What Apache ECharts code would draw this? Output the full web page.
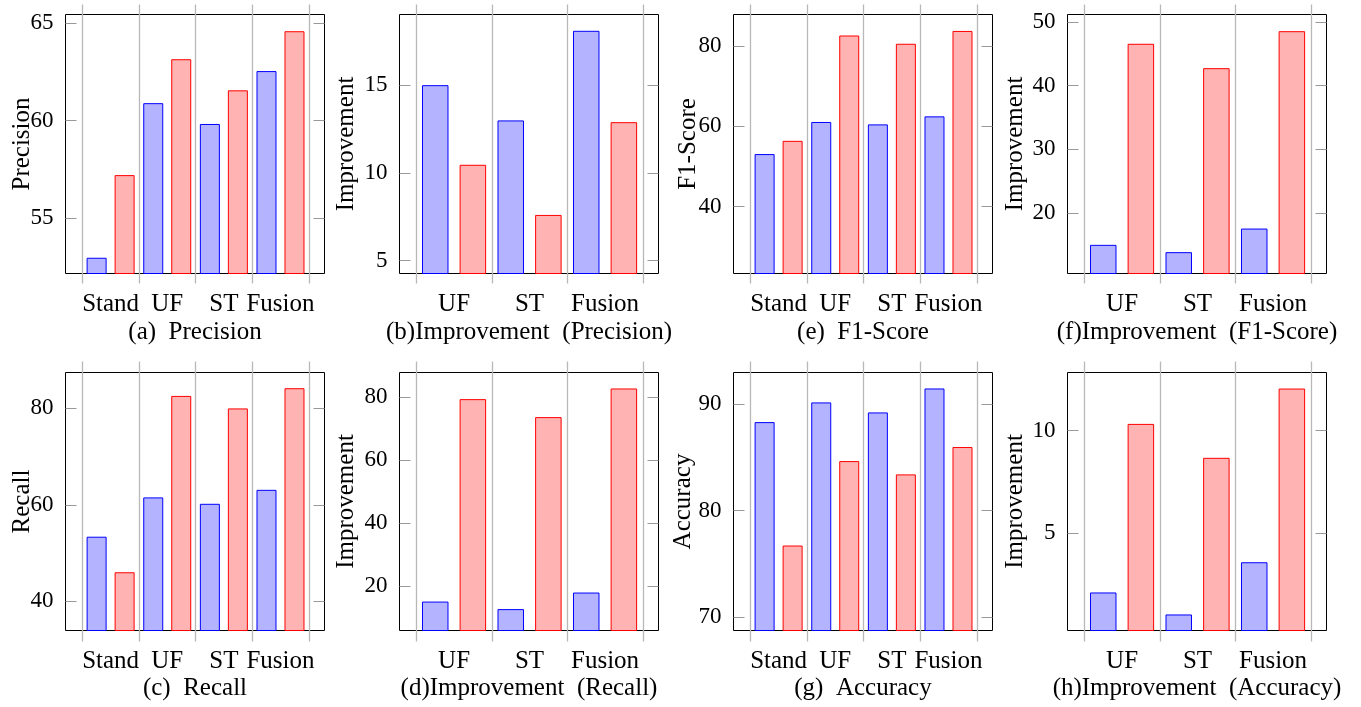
<!DOCTYPE html>
<html>
<head>
<meta charset="utf-8">
<script src="https://cdn.jsdelivr.net/npm/echarts@6/dist/echarts.min.js"></script>
<style>html,body{margin:0;padding:0;background:#fff;}#c{width:1361px;height:707px;}</style>
</head>
<body>
<div id="c"></div>
<script>
// ---- data ----
const categoriesMain = ['Stand', 'UF', 'ST', 'Fusion'];
const categoriesImp = ['UF', 'ST', 'Fusion'];

const precisionBlue = [52.95, 60.9, 59.83, 62.55];
const precisionRed  = [57.2, 63.16, 61.56, 64.6];
const precisionImpBlue = [15.0, 12.99, 18.1];
const precisionImpRed  = [10.46, 7.6, 12.89];

const recallBlue = [53.37, 61.53, 60.2, 63.1];
const recallRed  = [45.99, 82.6, 80.0, 84.2];
const recallImpBlue = [15.0, 12.6, 17.87];
const recallImpRed  = [79.37, 73.65, 82.76];

const f1Blue = [53.1, 61.1, 60.5, 62.5];
const f1Red  = [56.4, 82.66, 80.6, 83.8];
const f1ImpBlue = [14.97, 13.82, 17.53];
const f1ImpRed  = [46.55, 42.72, 48.53];

const accuracyBlue = [88.31, 90.16, 89.22, 91.47];
const accuracyRed  = [76.72, 84.65, 83.4, 85.97];
const accuracyImpBlue = [2.12, 1.05, 3.59];
const accuracyImpRed  = [10.32, 8.67, 12.04];

// tick labels
const precisionTicks = [55, 60, 65];
const precisionImpTicks = [5, 10, 15];
const f1Ticks = [40, 60, 80];
const f1ImpTicks = [20, 30, 40, 50];
const recallTicks = [40, 60, 80];
const recallImpTicks = [20, 40, 60, 80];
const accuracyTicks = [70, 80, 90];
const accuracyImpTicks = [5, 10];

// ---- layout ----
const FONT = '"Liberation Serif", "DejaVu Serif", serif';
const colX = [65.5, 399.5, 733.5, 1067.5];
const rowTop = [14.5, 372.5];
const rowH = [259, 258];
const BOX_W = 259, INSET = 16.8, INNER_W = 226.5;

const panels = [
  {col:0,row:0,cats:categoriesMain,blue:precisionBlue,red:precisionRed,yName:'Precision',caption:'(a)  Precision',min:52.14,max:65.46,ticks:precisionTicks,nameGap:31,bw:20,gap:'40%'},
  {col:1,row:0,cats:categoriesImp,blue:precisionImpBlue,red:precisionImpRed,yName:'Improvement',caption:'(b)Improvement  (Precision)',min:4.26,max:19.03,ticks:precisionImpTicks,nameGap:41,bw:26.5,gap:'42%'},
  {col:2,row:0,cats:categoriesMain,blue:f1Blue,red:f1Red,yName:'F1-Score',caption:'(e)  F1-Score',min:23.32,max:87.9,ticks:f1Ticks,nameGap:33,bw:20,gap:'40%'},
  {col:3,row:0,cats:categoriesImp,blue:f1ImpBlue,red:f1ImpRed,yName:'Improvement',caption:'(f)Improvement  (F1-Score)',min:10.47,max:51.15,ticks:f1ImpTicks,nameGap:40,bw:26.5,gap:'42%'},
  {col:0,row:1,cats:categoriesMain,blue:recallBlue,red:recallRed,yName:'Recall',caption:'(c)  Recall',min:33.9,max:87.46,ticks:recallTicks,nameGap:31,bw:20,gap:'40%'},
  {col:1,row:1,cats:categoriesImp,blue:recallImpBlue,red:recallImpRed,yName:'Improvement',caption:'(d)Improvement  (Recall)',min:5.8,max:87.84,ticks:recallImpTicks,nameGap:41,bw:26.5,gap:'42%'},
  {col:2,row:1,cats:categoriesMain,blue:accuracyBlue,red:accuracyRed,yName:'Accuracy',caption:'(g)  Accuracy',min:68.74,max:92.97,ticks:accuracyTicks,nameGap:38,bw:20,gap:'40%'},
  {col:3,row:1,cats:categoriesImp,blue:accuracyImpBlue,red:accuracyImpRed,yName:'Improvement',caption:'(h)Improvement  (Accuracy)',min:0.27,max:12.82,ticks:accuracyImpTicks,nameGap:40,bw:26.5,gap:'42%'}
];

const grid = [], xAxis = [], yAxis = [], series = [];
const textBase = {color:'#000', fontFamily: FONT};

panels.forEach(p => {
  const left = colX[p.col];
  const top = rowTop[p.row];
  const h = rowH[p.row];
  const ext = p.row === 0 ? 10 : 11;
  // vertical grid lines (extend beyond the box)
  const gLines = grid.length;
  grid.push({left: left + INSET, top: top - ext, width: INNER_W, height: h + 2*ext});
  xAxis.push({gridIndex:gLines, type:'category', data:p.cats, boundaryGap:true,
    axisLine:{show:false}, axisTick:{show:false}, axisLabel:{show:false},
    splitLine:{show:true, interval:0, lineStyle:{color:'#b8b8b8', width:1.3}}});
  yAxis.push({gridIndex:gLines, type:'value', show:false});
  // box grid
  const gBox = grid.length;
  grid.push({left: left, top: top, width: BOX_W, height: h, show:true, borderColor:'#000', borderWidth:1, backgroundColor:'transparent'});
  xAxis.push({gridIndex:gBox, type:'value', min:0, max:1,
    axisLine:{show:false}, axisTick:{show:false}, axisLabel:{show:false}, splitLine:{show:false},
    name:p.caption, nameLocation:'middle', nameGap: p.row === 0 ? 46 : 45, nameMoveOverlap:false,
    nameTextStyle:Object.assign({fontSize:25}, textBase)});
  yAxis.push({gridIndex:gBox, type:'value', position:'left', min:p.min, max:p.max,
    axisLine:{show:false}, splitLine:{show:false},
    axisTick:{show:true, inside:true, length:11, customValues:p.ticks, lineStyle:{color:'#999', width:1}},
    axisLabel:Object.assign({show:true, customValues:p.ticks, margin:12, fontSize:23}, textBase),
    name:p.yName, nameLocation:'middle', nameGap:p.nameGap, nameMoveOverlap:false,
    nameTextStyle:Object.assign({fontSize:25}, textBase)});
  yAxis.push({gridIndex:gBox, type:'value', position:'right', min:p.min, max:p.max,
    axisLine:{show:false}, splitLine:{show:false}, axisLabel:{show:false},
    axisTick:{show:true, inside:true, length:11, customValues:p.ticks, lineStyle:{color:'#999', width:1}}});
  // bars grid
  const gBars = grid.length;
  grid.push({left: left + INSET, top: top, width: INNER_W, height: h});
  const xi = xAxis.length;
  xAxis.push({gridIndex:gBars, type:'category', data:p.cats, boundaryGap:true,
    axisLine:{show:false}, axisTick:{show:false}, splitLine:{show:false},
    axisLabel:Object.assign({interval:0, margin:18, fontSize:25}, textBase)});
  const yi = yAxis.length;
  yAxis.push({gridIndex:gBars, type:'value', min:p.min, max:p.max, show:false});
  series.push({type:'bar', xAxisIndex:xi, yAxisIndex:yi, data:p.blue, barWidth:p.bw, barGap:p.gap,
    itemStyle:{color:'rgb(179,179,255)', borderColor:'#0000ff', borderWidth:1}, clip:true});
  series.push({type:'bar', xAxisIndex:xi, yAxisIndex:yi, data:p.red, barWidth:p.bw, barGap:p.gap,
    itemStyle:{color:'rgb(255,179,179)', borderColor:'#ff0000', borderWidth:1}, clip:true});
});

const chart = echarts.init(document.getElementById('c'), null, {renderer:'canvas'});
chart.setOption({
  backgroundColor:'#ffffff',
  animation:false,
  grid, xAxis, yAxis, series
});
</script>
</body>
</html>
